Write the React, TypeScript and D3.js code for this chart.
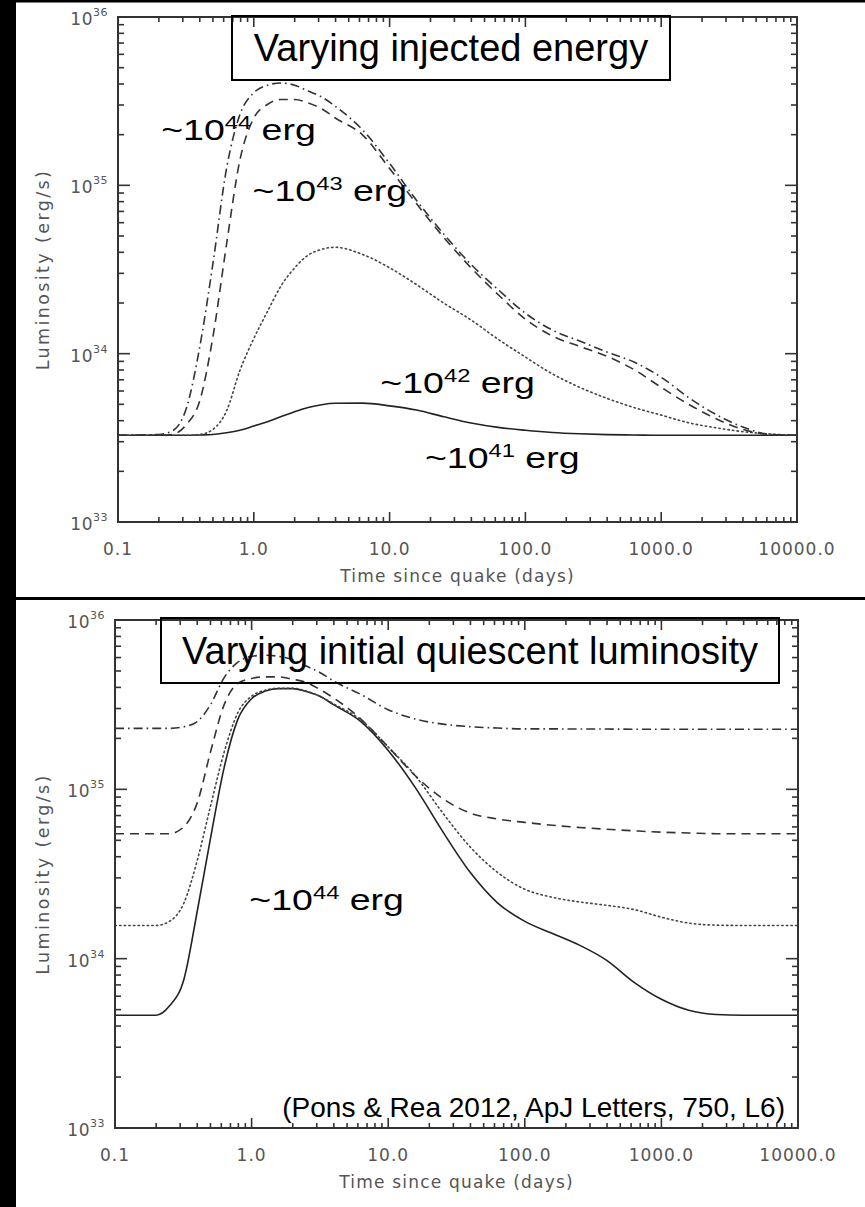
import React, { useEffect } from "react";
import * as d3 from "d3";

const W = 865;
const H = 1207;

// time grid (days) shared by all curves
const timeDays = [0.1, 0.2, 0.25, 0.32, 0.4, 0.5, 0.63, 0.79, 1.0, 1.26, 1.58, 2.0, 2.51, 3.16, 3.98, 6.31, 10, 15.8, 25.1, 39.8, 63.1, 100, 158, 251, 398, 631, 1000, 1585, 2512, 3981, 6310, 10000];

// Top panel: log10 luminosity (erg/s), varying injected energy
const topE41 = [33.515, 33.515, 33.515, 33.515, 33.517, 33.52, 33.53, 33.545, 33.57, 33.595, 33.625, 33.655, 33.68, 33.697, 33.705, 33.706, 33.69, 33.665, 33.625, 33.588, 33.562, 33.545, 33.532, 33.524, 33.519, 33.517, 33.515, 33.515, 33.515, 33.515, 33.515, 33.515];
const topE42 = [33.515, 33.515, 33.515, 33.515, 33.52, 33.55, 33.66, 33.9, 34.09, 34.25, 34.4, 34.51, 34.585, 34.62, 34.632, 34.59, 34.51, 34.41, 34.3, 34.2, 34.085, 33.98, 33.88, 33.8, 33.735, 33.68, 33.635, 33.59, 33.56, 33.537, 33.523, 33.515];
const topE43 = [33.515, 33.515, 33.52, 33.58, 33.72, 34.1, 34.65, 35.15, 35.4, 35.48, 35.51, 35.51, 35.49, 35.455, 35.4, 35.3, 35.1, 34.89, 34.69, 34.51, 34.35, 34.205, 34.105, 34.043, 33.985, 33.905, 33.8, 33.7, 33.615, 33.55, 33.52, 33.515];
const topE44 = [33.515, 33.52, 33.54, 33.68, 34.04, 34.535, 35.1, 35.42, 35.55, 35.595, 35.608, 35.595, 35.56, 35.525, 35.47, 35.33, 35.13, 34.91, 34.71, 34.53, 34.38, 34.24, 34.14, 34.075, 34.01, 33.95, 33.86, 33.74, 33.64, 33.565, 33.52, 33.515];

// Bottom panel: log10 luminosity (erg/s), varying initial quiescent luminosity (~1e44 erg)
const botQ1 = [33.666, 33.666, 33.72, 33.88, 34.28, 34.71, 35.13, 35.41, 35.535, 35.58, 35.595, 35.595, 35.578, 35.55, 35.5, 35.4, 35.23, 35.01, 34.75, 34.51, 34.33, 34.22, 34.15, 34.08, 33.99, 33.86, 33.76, 33.695, 33.67, 33.666, 33.666, 33.666];
const botQ2 = [34.196, 34.196, 34.22, 34.33, 34.58, 34.9, 35.22, 35.45, 35.55, 35.585, 35.597, 35.597, 35.58, 35.55, 35.505, 35.41, 35.25, 35.08, 34.86, 34.66, 34.51, 34.41, 34.363, 34.335, 34.315, 34.29, 34.245, 34.21, 34.198, 34.196, 34.196, 34.196];
const botQ3 = [34.738, 34.738, 34.738, 34.78, 34.92, 35.22, 35.5, 35.625, 35.655, 35.664, 35.664, 35.65, 35.632, 35.59, 35.54, 35.415, 35.25, 35.08, 34.945, 34.86, 34.825, 34.805, 34.788, 34.775, 34.764, 34.755, 34.747, 34.742, 34.738, 34.738, 34.738, 34.738];
const botQ4 = [35.36, 35.36, 35.36, 35.37, 35.4, 35.5, 35.66, 35.75, 35.785, 35.792, 35.785, 35.765, 35.728, 35.69, 35.64, 35.56, 35.47, 35.415, 35.385, 35.37, 35.362, 35.357, 35.357, 35.356, 35.356, 35.355, 35.355, 35.355, 35.355, 35.355, 35.355, 35.355];

const xTickValues = [0.1, 1, 10, 100, 1000, 10000];
const xTickLabels = ["0.1", "1.0", "10.0", "100.0", "1000.0", "10000.0"];
const yTickExponents = [33, 34, 35, 36];

const xTitle = "Time since quake (days)";
const yTitle = "Luminosity (erg/s)";

const DOT = "1.4 3.2";
const DASH = "9 6";
const DASHDOT = "9 4 1.6 4";

type Series = { vals: number[]; dash: string | null; color: string };
type Note = { base: string; exp: string; tail: string; t: number; logL: number };

const topSeries: Series[] = [
  { vals: topE41, dash: null, color: "#222" },
  { vals: topE42, dash: DOT, color: "#444" },
  { vals: topE43, dash: DASH, color: "#333" },
  { vals: topE44, dash: DASHDOT, color: "#333" },
];
const botSeries: Series[] = [
  { vals: botQ1, dash: null, color: "#222" },
  { vals: botQ2, dash: DOT, color: "#444" },
  { vals: botQ3, dash: DASH, color: "#333" },
  { vals: botQ4, dash: DASHDOT, color: "#333" },
];

// annotation anchors in data coordinates (start of text, baseline)
const topNotes: Note[] = [
  { base: "~10", exp: "44", tail: " erg", t: 0.208, logL: 35.27 },
  { base: "~10", exp: "43", tail: " erg", t: 0.98, logL: 34.906 },
  { base: "~10", exp: "42", tail: " erg", t: 8.55, logL: 33.765 },
  { base: "~10", exp: "41", tail: " erg", t: 18.2, logL: 33.32 },
];
const botNotes: Note[] = [
  { base: "~10", exp: "44", tail: " erg", t: 0.963, logL: 34.29 },
];

const TICK_FONT = "'DejaVu Sans', sans-serif";
const ANNOT_FONT = "'Liberation Sans', Arial, sans-serif";

function Panel(props: {
  x0: number; x1: number; y0: number; y1: number;
  series: Series[]; notes: Note[];
  box: { x: number; y: number; w: number; h: number; text: string };
  credit?: string;
}) {
  const { x0, x1, y0, y1, series, notes, box, credit } = props;
  const xs = d3.scaleLog().domain([0.1, 10000]).range([x0, x1]);
  const ys = d3.scaleLog().domain([1e33, 1e36]).range([y1, y0]);
  const line = d3
    .line<[number, number]>()
    .x((d) => xs(d[0]))
    .y((d) => ys(Math.pow(10, d[1])))
    .curve(d3.curveMonotoneX);

  const xMinor: number[] = [];
  for (let e = -1; e < 4; e++) for (let k = 2; k <= 9; k++) xMinor.push(k * Math.pow(10, e));
  const yMinor: number[] = [];
  for (let e = 33; e < 36; e++) for (let k = 2; k <= 9; k++) yMinor.push(k * Math.pow(10, e));

  const axisColor = "#333";
  const ticks: JSX.Element[] = [];
  xTickValues.forEach((v, i) => {
    const x = xs(v);
    ticks.push(<line key={"xM" + i} x1={x} x2={x} y1={y1} y2={y1 - 10} />);
    ticks.push(<line key={"xMt" + i} x1={x} x2={x} y1={y0} y2={y0 + 10} />);
  });
  xMinor.forEach((v, i) => {
    const x = xs(v);
    ticks.push(<line key={"xm" + i} x1={x} x2={x} y1={y1} y2={y1 - 5} />);
    ticks.push(<line key={"xmt" + i} x1={x} x2={x} y1={y0} y2={y0 + 5} />);
  });
  yTickExponents.forEach((e, i) => {
    const y = ys(Math.pow(10, e));
    ticks.push(<line key={"yM" + i} x1={x0} x2={x0 + 12} y1={y} y2={y} />);
    ticks.push(<line key={"yMr" + i} x1={x1} x2={x1 - 12} y1={y} y2={y} />);
  });
  yMinor.forEach((v, i) => {
    const y = ys(v);
    ticks.push(<line key={"ym" + i} x1={x0} x2={x0 + 6} y1={y} y2={y} />);
    ticks.push(<line key={"ymr" + i} x1={x1} x2={x1 - 6} y1={y} y2={y} />);
  });

  return (
    <g>
      {series.map((s, i) => (
        <path
          key={"s" + i}
          d={line(timeDays.map((t, j) => [t, s.vals[j]] as [number, number])) || ""}
          fill="none"
          stroke={s.color}
          strokeWidth={1.6}
          strokeDasharray={s.dash || undefined}
          strokeLinecap={s.dash === DOT ? "round" : "butt"}
        />
      ))}
      <rect x={x0} y={y0} width={x1 - x0} height={y1 - y0} fill="none" stroke={axisColor} strokeWidth={2} />
      <g stroke={axisColor} strokeWidth={1.6}>{ticks}</g>
      {xTickValues.map((v, i) => (
        <text key={"xl" + i} x={xs(v)} y={y1 + 33} textAnchor="middle" fontFamily={TICK_FONT} fontSize={17} fill="#555" letterSpacing={1}>
          {xTickLabels[i]}
        </text>
      ))}
      {yTickExponents.map((e, i) => (
        <text key={"yl" + i} x={x0 - 10} y={ys(Math.pow(10, e)) + 8} textAnchor="end" fontFamily={TICK_FONT} fontSize={17} fill="#555" letterSpacing={0.5}>
          10
          <tspan dy={-9} fontSize={11}>{String(e)}</tspan>
        </text>
      ))}
      <text x={(x0 + x1) / 2} y={y1 + 60} textAnchor="middle" fontFamily={TICK_FONT} fontSize={17} fill="#555" letterSpacing={1.2}>
        {xTitle}
      </text>
      <text transform={`translate(49, ${(y0 + y1) / 2}) rotate(-90)`} textAnchor="middle" fontFamily={TICK_FONT} fontSize={17.5} fill="#555" letterSpacing={2.4}>
        {yTitle}
      </text>
      <rect x={box.x} y={box.y} width={box.w} height={box.h} fill="none" stroke="#000" strokeWidth={2} />
      <text x={box.x + box.w / 2} y={box.y + box.h / 2 + 13} textAnchor="middle" fontFamily={ANNOT_FONT} fontSize={38} fill="#000">
        {box.text}
      </text>
      {notes.map((n, i) => {
        const ax = xs(n.t);
        const ay = ys(Math.pow(10, n.logL));
        return (
          <text key={"n" + i} transform={`translate(${ax}, ${ay}) scale(1.25, 1)`} fontFamily={ANNOT_FONT} fontSize={30} fill="#000">
            {n.base}
            <tspan dy={-11} fontSize={19}>{n.exp}</tspan>
            <tspan dy={11}>{n.tail}</tspan>
          </text>
        );
      })}
      {credit ? (
        <text x={x1 - 13} y={y1 - 11} textAnchor="end" fontFamily={ANNOT_FONT} fontSize={28} fill="#000">
          {credit}
        </text>
      ) : null}
    </g>
  );
}

export default function App() {
  useEffect(() => {
    document.body.style.margin = "0";
    document.body.style.overflow = "hidden";
    document.body.style.background = "#fff";
  }, []);
  return (
    <svg width={W} height={H} viewBox={`0 0 ${W} ${H}`} style={{ position: "absolute", left: 0, top: 0, display: "block", background: "#fff" }}>
      <rect x={0} y={0} width={W} height={H} fill="#fff" />
      <Panel
        x0={118} x1={797} y0={17} y1={522}
        series={topSeries} notes={topNotes}
        box={{ x: 232, y: 16, w: 438, h: 64, text: "Varying injected energy" }}
      />
      <Panel
        x0={115} x1={798} y0={620} y1={1128}
        series={botSeries} notes={botNotes}
        box={{ x: 161, y: 618, w: 618, h: 65, text: "Varying initial quiescent luminosity" }}
        credit="(Pons & Rea 2012, ApJ Letters, 750, L6)"
      />
      <rect x={0} y={0} width={16} height={H} fill="#000" />
      <rect x={0} y={0} width={W} height={2.5} fill="#000" />
      <rect x={0} y={597} width={W} height={3} fill="#000" />
    </svg>
  );
}
